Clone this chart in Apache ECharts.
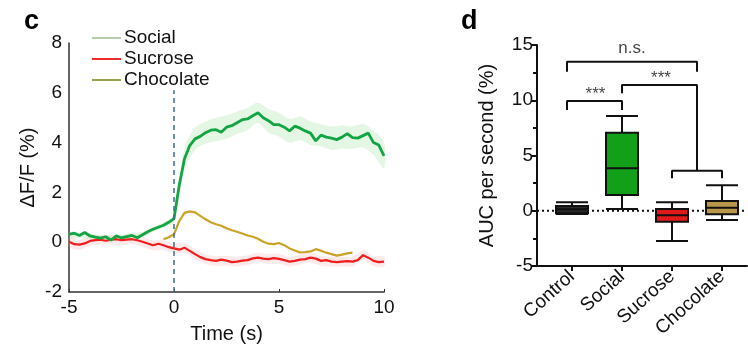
<!DOCTYPE html>
<html>
<head>
<meta charset="utf-8">
<script src="https://cdn.jsdelivr.net/npm/echarts@6/dist/echarts.min.js"></script>
<style>
  html, body { margin: 0; padding: 0; background: #fff; }
  #chart { width: 748px; height: 349px; }
</style>
</head>
<body>
<div id="chart"></div>
<script>
// ---- panel c: photometry traces ----
const time = [-5, -4.75, -4.5, -4.25, -4, -3.75, -3.5, -3.25, -3, -2.75, -2.5, -2.25, -2, -1.75, -1.5, -1.25,
  -1, -0.75, -0.5, -0.25, 0, 0.25, 0.5, 0.75, 1, 1.25, 1.5, 1.75, 2, 2.25, 2.5, 2.75, 3, 3.25, 3.5, 3.75,
  4, 4.25, 4.5, 4.75, 5, 5.25, 5.5, 5.75, 6, 6.25, 6.5, 6.75, 7, 7.25, 7.5, 7.75, 8, 8.25, 8.5, 8.75,
  9, 9.25, 9.5, 9.75, 10]
const social = [0.31, 0.36, 0.27, 0.39, 0.25, 0.2, 0.16, 0.22, 0.08, 0.26, 0.17, 0.22, 0.27, 0.18, 0.3, 0.42,
  0.52, 0.6, 0.68, 0.8, 0.95, 2.3, 3.35, 3.88, 4.15, 4.25, 4.4, 4.5, 4.52, 4.42, 4.62, 4.68, 4.8, 4.92, 4.95, 5.08,
  5.2, 5.0, 4.88, 4.72, 4.72, 4.62, 4.47, 4.66, 4.58, 4.47, 4.38, 4.07, 4.3, 4.22, 4.18, 4.12, 4.22, 4.36, 4.2, 4.18,
  4.28, 4.38, 4.0, 3.9, 3.47]
const sucrose = [0.02, -0.08, -0.1, -0.05, 0.05, 0.08, 0.1, 0.06, 0.1, 0.12, 0.08, 0.1, 0.12, 0.08, 0.02, -0.05,
  -0.12, -0.06, -0.12, -0.2, -0.25, -0.3, -0.22, -0.35, -0.48, -0.6, -0.68, -0.72, -0.75, -0.7, -0.74, -0.8, -0.78, -0.74, -0.72, -0.65,
  -0.62, -0.66, -0.68, -0.64, -0.67, -0.72, -0.78, -0.75, -0.7, -0.68, -0.62, -0.66, -0.75, -0.72, -0.78, -0.8, -0.78, -0.76, -0.78, -0.72,
  -0.52, -0.62, -0.75, -0.8, -0.78]
const chocolate = [null, null, null, null, null, null, null, null, null, null, null, null, null, null, null, null,
  null, null, 0.12, 0.2, 0.32, 0.85, 1.18, 1.24, 1.2, 1.06, 0.92, 0.8, 0.72, 0.66, 0.56, 0.48, 0.42, 0.35, 0.27, 0.22,
  0.14, 0.02, -0.06, -0.08, -0.03, -0.12, -0.25, -0.33, -0.41, -0.4, -0.37, -0.28, -0.34, -0.42, -0.48, -0.54, -0.5, -0.45, -0.42, null,
  null, null, null, null, null]

// shaded error bands (read every 0.5 s)
const bandTime = [-5, -4.5, -4, -3.5, -3, -2.5, -2, -1.5, -1, -0.5, 0, 0.5, 1, 1.5, 2, 2.5, 3, 3.5, 4, 4.5,
  5, 5.5, 6, 6.5, 7, 7.5, 8, 8.5, 9, 9.5, 10]
const socialHi = [0.42, 0.38, 0.36, 0.28, 0.26, 0.28, 0.38, 0.42, 0.62, 0.8, 1.1, 3.8, 4.6, 4.85, 5.0, 5.1, 5.25, 5.4, 5.6, 5.35,
  5.2, 4.95, 5.05, 4.85, 4.75, 4.65, 4.7, 4.65, 4.75, 4.5, 4.0]
const socialLo = [0.2, 0.16, 0.14, 0.05, 0.04, 0.07, 0.17, 0.2, 0.4, 0.58, 0.8, 2.9, 3.7, 3.95, 4.05, 4.15, 4.35, 4.5, 4.8, 4.4,
  4.25, 4.0, 4.1, 3.9, 3.85, 3.7, 3.75, 3.75, 3.8, 3.5, 2.95]
const sucroseHi = [0.22, 0.1, 0.25, 0.3, 0.3, 0.28, 0.32, 0.22, 0.08, 0.08, -0.05, -0.02, -0.28, -0.48, -0.55, -0.54, -0.58, -0.52, -0.42, -0.48,
  -0.47, -0.58, -0.5, -0.42, -0.55, -0.58, -0.58, -0.58, -0.32, -0.55, -0.58]
const sucroseLo = [-0.18, -0.3, -0.15, -0.1, -0.1, -0.12, -0.08, -0.18, -0.32, -0.32, -0.45, -0.42, -0.68, -0.88, -0.95, -0.94, -0.98, -0.92, -0.82, -0.88,
  -0.87, -0.98, -0.9, -0.82, -0.95, -0.98, -0.98, -0.98, -0.72, -0.95, -0.98]
const stimOnset = 0
const stimLineTop = 6.1

// ---- panel d: AUC box plots ----
const groups = ['Control', 'Social', 'Sucrose', 'Chocolate']
const boxMin = [-0.3, 0.16, -2.74, -0.84]
const boxQ1 = [-0.23, 1.42, -0.99, -0.32]
const boxMedian = [0.13, 3.84, -0.41, 0.28]
const boxQ3 = [0.43, 7.07, 0.16, 0.88]
const boxMax = [0.76, 8.58, 0.76, 2.3]
const boxColors = ['#2a2a2a', '#12a019', '#e01a1a', '#b8974a']

// significance brackets [x, y] in data units (x = group index)
const bracketNs = [[-0.1, 12.58], [-0.1, 13.49], [2.5, 13.49], [2.5, 12.58]]
const bracketCtrlSocial = [[-0.1, 9.12], [-0.1, 9.93], [1, 9.93], [1, 9.12]]
const bracketSocialSweet = [[1, 10.63], [1, 11.38], [2.5, 11.38], [2.5, 3.63]]
const bracketSucChoc = [[2, 2.94], [2, 3.63], [3, 3.63], [3, 2.94]]
const sigText = ['n.s.', '***', '***']
const sigX = [1.2, 0.47, 1.78]
const sigY = [14.7, 10.5, 12.0]

const FONT = 'Liberation Sans, Arial, sans-serif'
const chart = echarts.init(document.getElementById('chart'), null, { renderer: 'canvas' })

const pair = (xs, ys) => xs.map((x, i) => [x, ys[i]])

function bandSeries(hi, lo, color) {
  return {
    type: 'custom',
    xAxisIndex: 0,
    yAxisIndex: 0,
    silent: true,
    z: 1,
    data: [0],
    renderItem: (params, api) => {
      const pts = bandTime.map((t, i) => api.coord([t, hi[i]]))
      for (let i = bandTime.length - 1; i >= 0; i--) pts.push(api.coord([bandTime[i], lo[i]]))
      return { type: 'polygon', shape: { points: pts, smooth: 0.3 }, style: { fill: color } }
    },
  }
}

const bracket = (pts) => ({
  type: 'line',
  xAxisIndex: 1,
  yAxisIndex: 1,
  data: pts,
  symbol: 'none',
  silent: true,
  z: 4,
  lineStyle: { color: '#111', width: 2 },
})

const option = {
  animation: false,
  textStyle: { fontFamily: FONT },
  graphic: [
    { type: 'text', left: 24, top: 8, style: { text: 'c', font: 'bold 27px ' + FONT, fill: '#000' } },
    { type: 'text', left: 461, top: 8, style: { text: 'd', font: 'bold 27px ' + FONT, fill: '#000' } },
  ],
  legend: {
    orient: 'vertical',
    left: 87,
    top: 23,
    itemWidth: 29,
    itemHeight: 2,
    itemGap: 1,
    icon: 'rect',
    textStyle: { fontSize: 19, color: '#111', padding: [0, 0, 0, -2], lineHeight: 20 },
    data: [
      { name: 'Social', itemStyle: { color: '#b6cdae' } },
      { name: 'Sucrose', itemStyle: { color: '#ef2a2a' } },
      { name: 'Chocolate', itemStyle: { color: '#9aa152' } },
    ],
  },
  grid: [
    { left: 69, right: 364, top: 43, bottom: 55 },
    { left: 537, right: 1, top: 45, bottom: 83 },
  ],
  xAxis: [
    {
      gridIndex: 0,
      type: 'value',
      min: -5,
      max: 10,
      interval: 5,
      name: 'Time (s)',
      nameLocation: 'middle',
      nameGap: 32,
      nameTextStyle: { fontSize: 20, color: '#111' },
      axisLine: { onZero: false, lineStyle: { color: '#333', width: 1.5 } },
      axisTick: { inside: true, length: 3, lineStyle: { color: '#333' } },
      axisLabel: { fontSize: 19, color: '#111', margin: 6 },
      splitLine: { show: false },
    },
    {
      gridIndex: 1,
      type: 'value',
      min: -0.7,
      max: 3.5,
      axisLine: { onZero: false, lineStyle: { color: '#111', width: 2 } },
      axisTick: { customValues: [0, 1, 2, 3], length: 5, lineStyle: { color: '#111', width: 2 } },
      axisLabel: {
        customValues: [0, 1, 2, 3],
        formatter: (v) => groups[Math.round(v)],
        rotate: 42,
        fontSize: 19,
        color: '#111',
        margin: 8,
      },
      splitLine: { show: false },
    },
  ],
  yAxis: [
    {
      gridIndex: 0,
      type: 'value',
      min: -2,
      max: 8,
      interval: 2,
      name: 'ΔF/F (%)',
      nameLocation: 'middle',
      nameGap: 31,
      nameTextStyle: { fontSize: 20, color: '#111' },
      axisLine: { show: true, onZero: false, lineStyle: { color: '#333', width: 1.5 } },
      axisTick: { show: false },
      axisLabel: { fontSize: 19, color: '#111', margin: 7 },
      splitLine: { show: false },
    },
    {
      gridIndex: 1,
      type: 'value',
      min: -5,
      max: 15,
      interval: 5,
      name: 'AUC per second (%)',
      nameLocation: 'middle',
      nameGap: 40,
      nameTextStyle: { fontSize: 20, color: '#111' },
      axisLine: { show: true, onZero: false, lineStyle: { color: '#111', width: 2 } },
      axisTick: { length: 6, lineStyle: { color: '#111', width: 2 } },
      minorTick: { show: true, splitNumber: 2, length: 4, lineStyle: { color: '#111', width: 2 } },
      axisLabel: { fontSize: 19, color: '#111', margin: 4 },
      splitLine: { show: false },
    },
  ],
  series: [
    bandSeries(sucroseHi, sucroseLo, 'rgba(245,150,150,0.2)'),
    bandSeries(socialHi, socialLo, 'rgba(120,210,120,0.2)'),
    {
      name: 'Sucrose',
      type: 'line',
      data: pair(time, sucrose),
      symbol: 'none',
      z: 3,
      lineStyle: { color: '#f21d1d', width: 2.2 },
      itemStyle: { color: '#ef2a2a' },
    },
    {
      name: 'Chocolate',
      type: 'line',
      data: pair(time, chocolate),
      symbol: 'none',
      z: 3,
      lineStyle: { color: '#c9a226', width: 2.2 },
      itemStyle: { color: '#9aa152' },
    },
    {
      name: 'Social',
      type: 'line',
      data: pair(time, social),
      symbol: 'none',
      z: 3,
      lineStyle: { color: '#13a544', width: 2.8 },
      itemStyle: { color: '#b6cdae' },
      markLine: {
        silent: true,
        symbol: 'none',
        label: { show: false },
        lineStyle: { color: '#3f6f8f', type: [5, 4], width: 1.5 },
        data: [[{ coord: [stimOnset, -2] }, { coord: [stimOnset, stimLineTop] }]],
      },
    },
    // panel d
    {
      type: 'line',
      xAxisIndex: 1,
      yAxisIndex: 1,
      data: [[-0.7, 0], [3.5, 0]],
      symbol: 'none',
      silent: true,
      z: 1,
      lineStyle: { color: '#111', width: 2, type: [2, 3] },
    },
    {
      type: 'boxplot',
      xAxisIndex: 1,
      yAxisIndex: 1,
      boxWidth: [32, 32],
      z: 3,
      data: groups.map((g, i) => ({
        value: [i, boxMin[i], boxQ1[i], boxMedian[i], boxQ3[i], boxMax[i]],
        itemStyle: { color: boxColors[i], borderColor: '#111', borderWidth: 2 },
      })),
    },
    bracket(bracketNs),
    bracket(bracketCtrlSocial),
    bracket(bracketSocialSweet),
    bracket(bracketSucChoc),
    {
      type: 'scatter',
      xAxisIndex: 1,
      yAxisIndex: 1,
      symbolSize: 0,
      silent: true,
      z: 5,
      data: sigText.map((t, i) => ({ value: [sigX[i], sigY[i]], name: t })),
      label: {
        show: true,
        position: 'inside',
        formatter: (p) => p.name,
        fontSize: 17,
        color: '#111',
      },
    },
  ],
}

chart.setOption(option)
</script>
</body>
</html>
